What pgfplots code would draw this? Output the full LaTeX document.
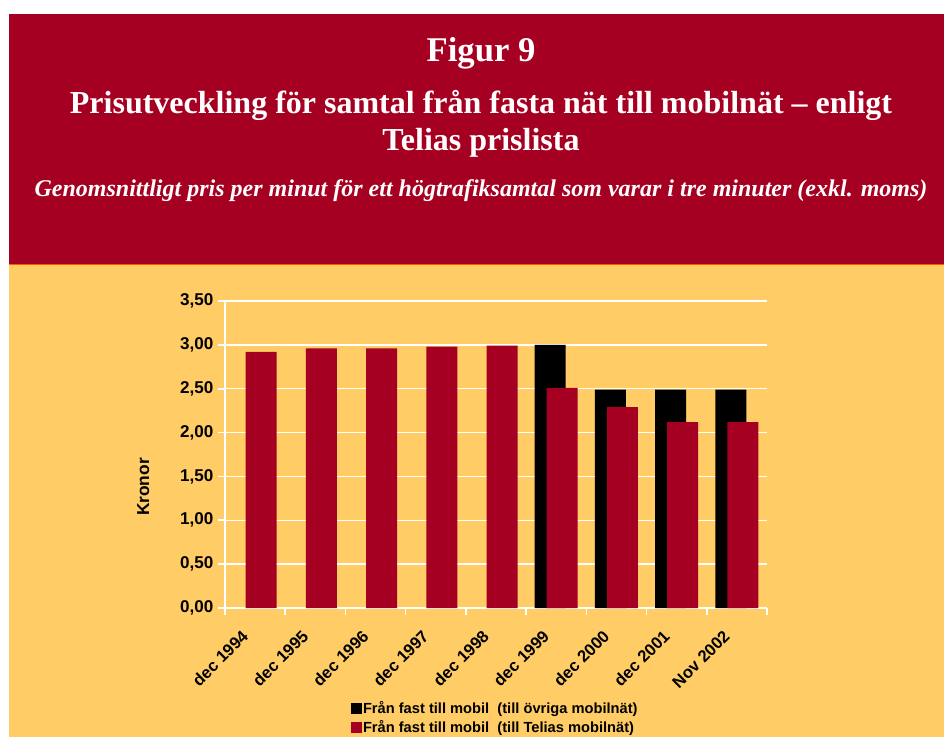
\documentclass[border=0pt]{standalone}
\usepackage{fontspec}
\setmainfont{Liberation Serif}
\setsansfont{Liberation Sans}
\usepackage{pgfplots}
\pgfplotsset{compat=1.18}
\definecolor{banner}{HTML}{A50021}
\definecolor{sand}{HTML}{FFCC66}
\definecolor{telia}{HTML}{A50021}

\begin{document}
\begin{tikzpicture}
% background and headings, in pixel units of the reference
\begin{scope}[x=0.75pt,y=-0.75pt]
  \fill[white] (0,0) rectangle (944,737);
  \fill[banner] (9,14) rectangle (944,264);
  \fill[sand] (9,264) rectangle (944,737);
  \draw[color=orange!70!red, line width=0.75pt] (9,264.5) -- (944,264.5);
  \node[anchor=base, text=white, inner sep=0pt,
        font=\bfseries\fontsize{26}{30}\selectfont] at (481,62) {Figur 9};
  \node[anchor=base, text=white, inner sep=0pt,
        font=\bfseries\fontsize{24}{28}\selectfont] at (481,114)
        {Prisutveckling för samtal från fasta nät till mobilnät \textendash\ enligt};
  \node[anchor=base, text=white, inner sep=0pt,
        font=\bfseries\fontsize{24}{28}\selectfont] at (481,151) {Telias prislista};
  \node[anchor=base, text=white, inner sep=0pt,
        font=\bfseries\itshape\fontsize{18}{22}\selectfont] at (481,197)
        {Genomsnittligt pris per minut för ett högtrafiksamtal som varar i tre minuter (exkl. moms)};
\end{scope}

\begin{axis}[
  at={(168.75pt,-456pt)}, anchor=south west,
  scale only axis, width=406.5pt, height=230.25pt,
  ybar, bar width=23.25pt,
  xmin=-0.5, xmax=8.5, ymin=0, ymax=3.5,
  axis lines*=left,
  axis line style={white, line width=1.5pt},
  tick align=outside,
  tick style={white, line width=1.2pt},
  major tick length=5.25pt,
  xtick={-0.5,0.5,...,8.5}, xticklabels={},
  extra x ticks={0,1,2,3,4,5,6,7,8},
  extra x tick labels={dec 1994,dec 1995,dec 1996,dec 1997,dec 1998,dec 1999,dec 2000,dec 2001,Nov 2002},
  extra x tick style={major tick length=0pt,
    xticklabel style={xshift=-7.5pt, yshift=-19pt, rotate=45, anchor=east, inner sep=0pt,
      font=\sffamily\bfseries\fontsize{12.5}{14}\selectfont}},
  ytick={0,0.5,...,3.5},
  ymajorgrids, grid style={white, line width=1.1pt},
  /pgf/number format/assume math mode=true,
  yticklabel style={/pgf/number format/.cd, fixed, fixed zerofill, precision=2, use comma,
    /tikz/.cd, font=\sffamily\bfseries\fontsize{12.8}{14}\selectfont},
  ylabel={Kronor},
  ylabel style={at={(axis description cs:-0.151,0.394)}, anchor=center,
    font=\sffamily\bfseries\fontsize{13}{15}\selectfont},
  legend style={at={(axis description cs:0.224,-0.29)}, anchor=north west,
    draw=none, fill=none, row sep=1.5pt,
    nodes={inner sep=1pt},
    font=\sffamily\bfseries\fontsize{11}{13}\selectfont},
  legend cell align=left,
  legend image code/.code={\fill[#1] (0pt,-4.1pt) rectangle (8.25pt,4.1pt);},
]
\addplot[fill=black, draw=none, bar shift=-4.5pt]
  coordinates {(5,3.00) (6,2.49) (7,2.49) (8,2.49)};
\addlegendentry{Från fast till mobil\ \ (till övriga mobilnät)}
\addplot[fill=telia, draw=none, bar shift=4.5pt]
  coordinates {(0,2.92) (1,2.96) (2,2.96) (3,2.98) (4,2.99)
               (5,2.51) (6,2.29) (7,2.12) (8,2.12)};
\addlegendentry{Från fast till mobil\ \ (till Telias mobilnät)}
\end{axis}

\pgfresetboundingbox
\path (0,0) rectangle (708pt,-552.75pt);
\end{tikzpicture}
\end{document}
